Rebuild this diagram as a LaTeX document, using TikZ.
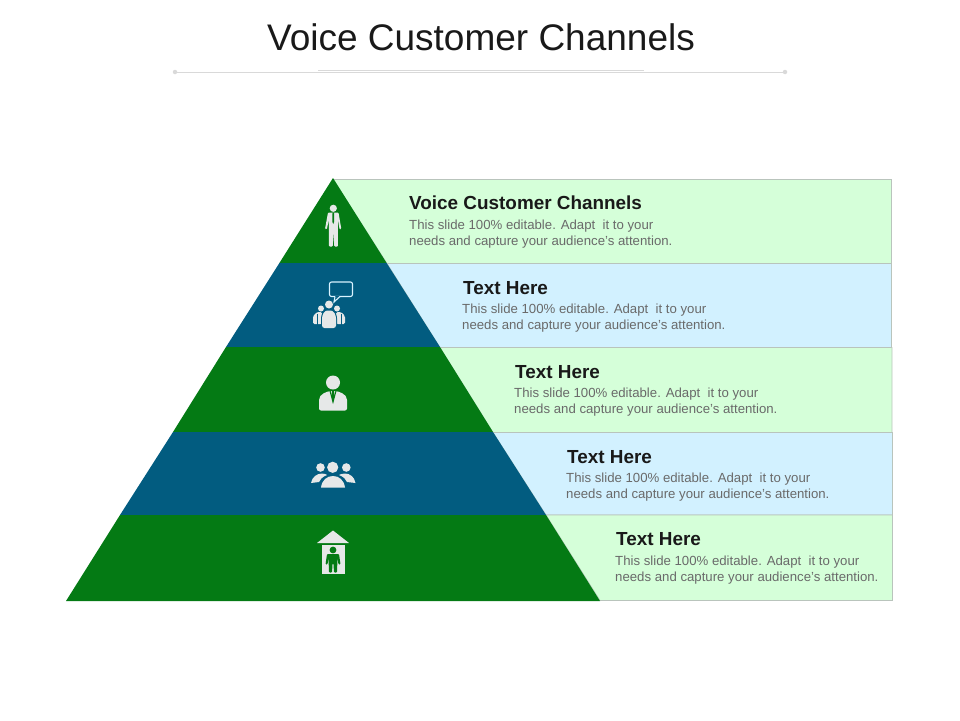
\documentclass[tikz,border=0pt]{standalone}
\usepackage{fontspec}
\setmainfont{Liberation Sans}
\definecolor{pgreen}{HTML}{047A14}
\definecolor{pblue}{HTML}{025C80}
\definecolor{lgreen}{HTML}{D5FFD9}
\definecolor{lblue}{HTML}{D2F1FF}
\definecolor{edgegrey}{HTML}{B9C4BC}
\definecolor{icon}{HTML}{E6E8E8}
\definecolor{rulegrey}{HTML}{D9D9D9}
\definecolor{bodygrey}{HTML}{6A6A6A}
\tikzset{
  panelg/.style={fill=lgreen,draw=edgegrey,line width=.7pt},
  panelb/.style={fill=lblue,draw=edgegrey,line width=.7pt},
  bandg/.style={fill=pgreen},
  bandb/.style={fill=pblue},
  head/.style={anchor=base west,inner sep=0pt,font=\fontsize{18.9}{20}\selectfont\bfseries,text=black!90},
  bodytext/.style={anchor=north west,inner sep=0pt,align=left,font=\fontsize{13.2}{16}\selectfont,text=bodygrey},
  ttl/.style={inner sep=0pt,font=\fontsize{37}{40}\selectfont,text=black!90},
  iconfill/.style={fill=icon,draw=none},
  rulel/.style={draw=rulegrey,line width=.9pt},
  dotend/.style={circle,fill=rulegrey,inner sep=0pt,minimum size=4.5pt}
}
\begin{document}
\begin{tikzpicture}[x=1pt,y=-1pt]
\useasboundingbox (0,0) rectangle (960,720);
% title
\node[ttl] (title) at (481,37.5) {Voice Customer Channels};
\node[dotend] (ra) at (175,72) {};
\node[dotend] (rb) at (785,72) {};
\coordinate (rc) at (318,70);
\coordinate (rd) at (644,70);
\draw[rulel] (ra) -- (rb);
\draw[rulel,line width=.6pt] (rc) -- (rd);
% panels
\path[panelg] (333,179.5) -- (891.5,179.5) -- (891.5,263.5) -- (387,263.5) -- cycle;
\path[panelb] (387,263.5) -- (891.5,263.5) -- (891.5,347.5) -- (440,347.5) -- cycle;
\path[panelg] (440,347.5) -- (892,347.5) -- (892,432.5) -- (493,432.5) -- cycle;
\path[panelb] (493,432.5) -- (892.5,432.5) -- (892.5,515) -- (546,515) -- cycle;
\path[panelg] (546,515) -- (892.5,515) -- (892.5,600.5) -- (600,600.5) -- cycle;
% pyramid
\fill[bandg] (333,178) -- (386.6,263) -- (279.4,263) -- cycle;
\fill[bandb] (386.6,263) -- (440,347) -- (226,347) -- (279.4,263) -- cycle;
\fill[bandg] (440,347) -- (493,432) -- (173,432) -- (226,347) -- cycle;
\fill[bandb] (493,432) -- (546,515) -- (120,515) -- (173,432) -- cycle;
\fill[bandg] (546,515) -- (600,601) -- (66,601) -- (120,515) -- cycle;
% text
\node[head] (h1) at (409,209) {Voice Customer Channels};
\node[bodytext] (b1) at (409,219.5) {This slide 100\% editable. Adapt\ \ it to your\\needs and capture your audience’s attention.};
\node[head] (h2) at (463,294.5) {Text Here};
\node[bodytext] (b2) at (462,303.5) {This slide 100\% editable. Adapt\ \ it to your\\needs and capture your audience’s attention.};
\node[head] (h3) at (515,378.5) {Text Here};
\node[bodytext] (b3) at (514,387.5) {This slide 100\% editable. Adapt\ \ it to your\\needs and capture your audience’s attention.};
\node[head] (h4) at (567,463) {Text Here};
\node[bodytext] (b4) at (566,472.5) {This slide 100\% editable. Adapt\ \ it to your\\needs and capture your audience’s attention.};
\node[head] (h5) at (616,545) {Text Here};
\node[bodytext] (b5) at (615,555.5) {This slide 100\% editable. Adapt\ \ it to your\\needs and capture your audience’s attention.};
% icon 1: standing man
\fill[iconfill] (333.3,208.3) circle (3.6);
\fill[iconfill,rounded corners=1pt] (328,212.5) -- (338.5,212.5) -- (341.3,229) -- (339.6,229.5) -- (337.8,219) -- (338,246.5) -- (334.2,246.5) -- (333.6,231) -- (332.8,246.5) -- (328.8,246.5) -- (329,219) -- (326.8,229.5) -- (325,229) -- cycle;
\fill[pgreen] (332.6,212.5) -- (334,212.5) -- (334.2,214) -- (334,222) -- (333.2,224) -- (332.4,222) -- (332.4,214) -- cycle;
% icon 2: group with bubble
\draw[draw=lblue!85!white,line width=1.1pt,rounded corners=2pt] (329.5,282) rectangle (352.5,296.5);
\fill[pblue] (335,295.8) rectangle (340,297.2);
\draw[draw=lblue!85!white,line width=1.1pt] (335,296.5) -- (334,302) -- (340,296.5);
\fill[iconfill] (321,308.5) circle (3);
\fill[iconfill] (337,308.5) circle (3);
\fill[iconfill] (329,304.5) circle (4);
\fill[iconfill,rounded corners=1.5pt] (313,324) -- (313,316) -- (317,312) -- (322,312) -- (322,324) -- cycle;
\fill[iconfill,rounded corners=1.5pt] (345,324) -- (345,316) -- (341,312) -- (336,312) -- (336,324) -- cycle;
\fill[pblue] (316.5,314) rectangle (317.3,324.5);
\fill[pblue] (340.7,314) rectangle (341.5,324.5);
\fill[pblue,rounded corners=2.5pt] (321,329) -- (321,316) -- (324,309.5) -- (334,309.5) -- (337,316) -- (337,329) -- cycle;
\fill[iconfill,rounded corners=2.5pt] (322,328) -- (322,316) -- (325,310.5) -- (333,310.5) -- (336,316) -- (336,328) -- cycle;
% icon 3: businessman
\fill[iconfill] (333,382.5) circle (7);
\fill[iconfill,rounded corners=2pt] (319,410.5) -- (319,398) -- (322,394) -- (329,391) -- (337,391) -- (344,394) -- (347,398) -- (347,410.5) -- cycle;
\fill[pgreen] (329.5,391) -- (333,404) -- (336.5,391) -- (335.4,391) -- (333,399) -- (330.6,391) -- cycle;
\fill[pgreen] (331.8,391) -- (334.2,391) -- (334.2,397) -- (333,403) -- (331.8,397) -- cycle;
% icon 4: three people
\fill[iconfill] (320.5,467.5) circle (4.3);
\fill[iconfill] (346.3,467.5) circle (4.3);
\fill[iconfill] (332.7,467.3) circle (5.6);
\fill[iconfill] (311,483) .. controls (312,477) and (317,473.5) .. (322,473.5) .. controls (325,473.5) and (326,474.5) .. (327,475) .. controls (322,477) and (320,479.5) .. (319,482) -- cycle;
\fill[iconfill] (355.5,483) .. controls (354.5,477) and (350,473.5) .. (345,473.5) .. controls (342,473.5) and (340,474.5) .. (339,475) .. controls (344,477) and (346,479.5) .. (347,482) -- cycle;
\fill[iconfill] (321,487.5) .. controls (322,480) and (327,476) .. (333,476) .. controls (339,476) and (344,480) .. (345,487.5) -- cycle;
% icon 5: man in house
\fill[iconfill] (333,530.5) -- (349,543) -- (317,543) -- cycle;
\fill[iconfill] (321.5,544.5) rectangle (345,574);
\fill[pgreen] (333,550) circle (3.4);
\fill[pgreen,rounded corners=1pt] (327,554) -- (339,554) -- (340.5,564.5) -- (338.5,564.5) -- (337.5,558) -- (337,572.5) -- (334,572.5) -- (333.4,563) -- (332.6,563) -- (332,572.5) -- (329,572.5) -- (328.5,558) -- (327.5,564.5) -- (325.5,564.5) -- cycle;
\end{tikzpicture}
\end{document}
